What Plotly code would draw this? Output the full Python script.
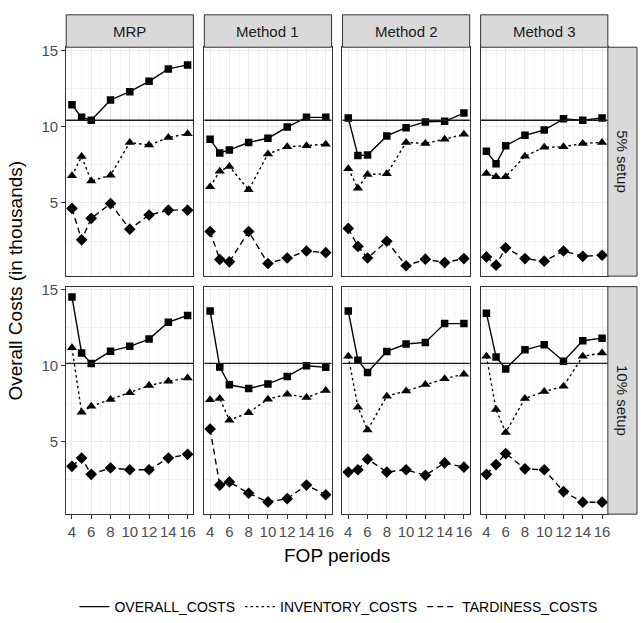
import plotly.graph_objects as go

# ---------------- data (values in thousands) ----------------
fop = [4, 5, 6, 8, 10, 12, 14, 16]
methods = ["MRP", "Method 1", "Method 2", "Method 3"]
setups = ["5% setup", "10% setup"]
x_tickvals = [4, 6, 8, 10, 12, 14, 16]
x_ticktext = ["4", "6", "8", "10", "12", "14", "16"]
y_tickvals = [5, 10, 15]

overall_5 = {
    "MRP":      [11.44, 10.62, 10.43, 11.76, 12.30, 12.98, 13.80, 14.06],
    "Method 1": [9.18, 8.28, 8.48, 8.97, 9.25, 9.98, 10.62, 10.62],
    "Method 2": [10.58, 8.11, 8.15, 9.40, 9.94, 10.32, 10.36, 10.90],
    "Method 3": [8.39, 7.58, 8.76, 9.44, 9.79, 10.52, 10.43, 10.58],
}
inventory_5 = {
    "MRP":      [6.78, 8.05, 6.44, 6.82, 8.97, 8.80, 9.29, 9.55],
    "Method 1": [6.07, 7.08, 7.40, 5.86, 8.22, 8.69, 8.76, 8.86],
    "Method 2": [7.25, 5.97, 6.87, 6.91, 8.97, 8.91, 9.18, 9.51],
    "Method 3": [6.93, 6.72, 6.72, 8.07, 8.65, 8.69, 8.91, 8.97],
}
tardiness_5 = {
    "MRP":      [4.64, 2.58, 3.99, 4.96, 3.28, 4.21, 4.53, 4.53],
    "Method 1": [3.13, 1.29, 1.14, 3.13, 1.03, 1.39, 1.85, 1.74],
    "Method 2": [3.33, 2.15, 1.39, 2.49, 0.88, 1.31, 1.09, 1.35],
    "Method 3": [1.46, 0.92, 2.06, 1.35, 1.18, 1.85, 1.50, 1.57],
}
overall_10 = {
    "MRP":      [14.54, 10.84, 10.15, 10.96, 11.28, 11.76, 12.87, 13.32],
    "Method 1": [13.62, 9.91, 8.74, 8.50, 8.80, 9.29, 10.00, 9.89],
    "Method 2": [13.62, 10.36, 9.55, 10.94, 11.43, 11.54, 12.78, 12.78],
    "Method 3": [13.47, 10.58, 9.79, 11.05, 11.39, 10.30, 11.65, 11.82],
}
inventory_10 = {
    "MRP":      [11.18, 6.92, 7.32, 7.77, 8.22, 8.69, 8.97, 9.19],
    "Method 1": [7.75, 7.84, 6.40, 6.90, 7.79, 8.12, 7.90, 8.37],
    "Method 2": [10.62, 7.26, 5.76, 7.99, 8.33, 8.76, 9.14, 9.44],
    "Method 3": [10.62, 7.11, 5.59, 7.84, 8.29, 8.65, 10.62, 10.84],
}
tardiness_10 = {
    "MRP":      [3.36, 3.90, 2.83, 3.25, 3.13, 3.13, 3.90, 4.15],
    "Method 1": [5.82, 2.12, 2.33, 1.58, 1.01, 1.22, 2.12, 1.48],
    "Method 2": [2.98, 3.13, 3.83, 2.98, 3.13, 2.76, 3.58, 3.30],
    "Method 3": [2.83, 3.47, 4.20, 3.19, 3.13, 1.69, 0.99, 0.99],
}

series_names = ["OVERALL_COSTS", "INVENTORY_COSTS", "TARDINESS_COSTS"]
data_by_setup = [
    [overall_5, inventory_5, tardiness_5],
    [overall_10, inventory_10, tardiness_10],
]

# ---------------- styling ----------------
W, H = 641, 623
FONT = "Arial, Liberation Sans, sans-serif"
styles = [
    dict(dash="solid", symbol="square", size=7.5),
    dict(dash="2.5px,3px", symbol="triangle-up", size=9),
    dict(dash="6px,4px", symbol="diamond", size=9),
]
col_x0 = [66.5, 205.3, 344.1, 482.9]
pw = 127.8
rows_px = [(43.0, 276.0), (286.7, 518.3)]
strip_top = (10.0, 43.0)
right_strip = (610.7, 640.0)

fig = go.Figure()
layout = dict(
    width=W, height=H,
    margin=dict(l=0, r=0, t=0, b=0),
    paper_bgcolor="white", plot_bgcolor="white",
    font=dict(family=FONT, color="#4D4D4D"),
    showlegend=True,
)
shapes = []
annotations = []

for r, setup in enumerate(setups):
    y0p, y1p = rows_px[r]
    for c, m in enumerate(methods):
        k = r * 4 + c + 1
        xs = "" if k == 1 else str(k)
        xa, ya = "x" + xs, "y" + xs
        x0p = col_x0[c]
        layout["xaxis" + xs] = dict(
            domain=[x0p / W, (x0p + pw) / W], anchor=ya,
            range=[3.4, 16.6], tickvals=x_tickvals, ticktext=x_ticktext,
            showticklabels=(r == 1), ticks="outside" if r == 1 else "",
            ticklen=4, tickcolor="#333333", tickwidth=1,
            tickfont=dict(size=15, color="#4D4D4D"),
            showgrid=True, gridcolor="#EBEBEB", gridwidth=1,
            minor=dict(dtick=1, tick0=0, showgrid=True, gridcolor="#F4F4F4", gridwidth=0.6),
            showline=True, mirror=True, linecolor="#333333", linewidth=1,
            zeroline=False, fixedrange=True,
        )
        layout["yaxis" + xs] = dict(
            domain=[1 - y1p / H, 1 - y0p / H], anchor=xa,
            range=[0.2, 15.22], tickvals=y_tickvals,
            showticklabels=(c == 0), ticks="outside" if c == 0 else "",
            ticklen=4, tickcolor="#333333", tickwidth=1,
            tickfont=dict(size=15, color="#4D4D4D"),
            showgrid=True, gridcolor="#EBEBEB", gridwidth=1,
            minor=dict(dtick=2.5, tick0=0, showgrid=True, gridcolor="#F4F4F4", gridwidth=0.6),
            showline=True, mirror=True, linecolor="#333333", linewidth=1,
            zeroline=False, fixedrange=True,
        )
        # reference line: best MRP overall cost of this setup
        ref = min(data_by_setup[r][0]["MRP"])
        shapes.append(dict(type="line", xref=xa + " domain", x0=0, x1=1,
                           yref=ya, y0=ref, y1=ref,
                           line=dict(color="#1A1A1A", width=1.3)))
        for s, name in enumerate(series_names):
            vals = data_by_setup[r][s][m]
            st = styles[s]
            fig.add_trace(go.Scatter(
                x=fop, y=vals, xaxis=xa, yaxis=ya, mode="lines+markers",
                line=dict(color="black", width=1.4, dash=st["dash"]),
                marker=dict(symbol=st["symbol"], size=st["size"], color="black"),
                showlegend=False, name=name, hoverinfo="skip",
            ))
        # top strips
        if r == 0:
            shapes.append(dict(type="rect", xref="paper", yref="paper",
                               x0=x0p / W, x1=(x0p + pw) / W,
                               y0=1 - strip_top[1] / H, y1=1 - strip_top[0] / H,
                               fillcolor="#D9D9D9", line=dict(color="#333333", width=1)))
            annotations.append(dict(text=m, xref="paper", yref="paper",
                                    x=(x0p + pw / 2) / W, y=1 - (strip_top[0] + strip_top[1]) / 2 / H,
                                    showarrow=False, xanchor="center", yanchor="middle",
                                    font=dict(size=15, color="#1A1A1A", family=FONT)))
    # right strips
    shapes.append(dict(type="rect", xref="paper", yref="paper",
                       x0=right_strip[0] / W, x1=right_strip[1] / W,
                       y0=1 - y1p / H, y1=1 - y0p / H,
                       fillcolor="#D9D9D9", line=dict(color="#333333", width=1)))
    annotations.append(dict(text=setup, xref="paper", yref="paper",
                            x=(right_strip[0] + right_strip[1]) / 2 / W,
                            y=1 - (y0p + y1p) / 2 / H, textangle=90,
                            showarrow=False, xanchor="center", yanchor="middle",
                            font=dict(size=15, color="#1A1A1A", family=FONT)))

# legend-only entries (line keys)
for s, name in enumerate(series_names):
    fig.add_trace(go.Scatter(
        x=[None], y=[None], mode="lines", name=name,
        line=dict(color="black", width=1.4, dash=styles[s]["dash"]),
        showlegend=True,
    ))

# axis titles
annotations.append(dict(text="FOP periods", xref="paper", yref="paper",
                        x=(col_x0[0] + col_x0[3] + pw) / 2 / W, y=1 - 560 / H,
                        showarrow=False, xanchor="center", yanchor="middle",
                        font=dict(size=19, color="black", family=FONT)))
annotations.append(dict(text="Overall Costs (in thousands)", xref="paper", yref="paper",
                        x=16 / W, y=1 - (rows_px[0][0] + rows_px[1][1]) / 2 / H, textangle=-90,
                        showarrow=False, xanchor="center", yanchor="middle",
                        font=dict(size=19, color="black", family=FONT)))

layout["shapes"] = shapes
layout["annotations"] = annotations
layout["legend"] = dict(orientation="h", x=340 / W, xanchor="center",
                        y=1 - 613 / H, yanchor="middle",
                        font=dict(size=14, color="black", family=FONT),
                        itemwidth=30, tracegroupgap=0, bgcolor="rgba(0,0,0,0)")
fig.update_layout(**layout)
fig.write_html("out.html")
